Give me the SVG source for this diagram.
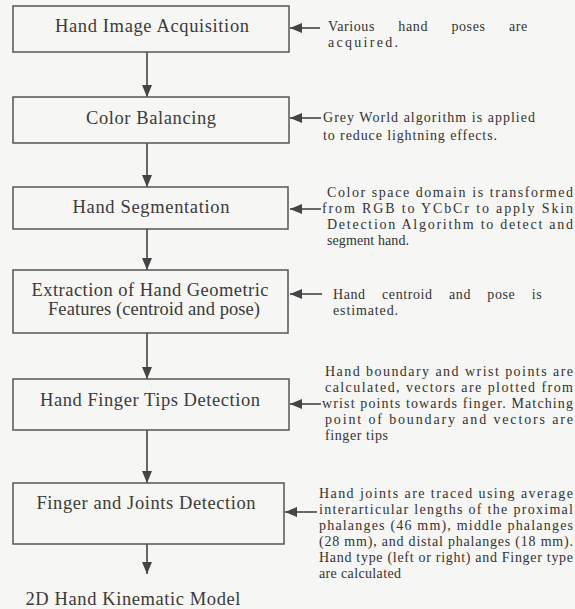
<svg xmlns="http://www.w3.org/2000/svg" width="575" height="609" viewBox="0 0 575 609">
<defs>
<marker id="ah" markerUnits="userSpaceOnUse" markerWidth="12" markerHeight="10" viewBox="0 0 12 10" refX="12" refY="5" orient="auto">
<path d="M0,0 L12,5 L0,10 Z" fill="#444"/>
</marker>
<style>
.box{fill:none;stroke:#555;stroke-width:1.5}
.t{font-family:"Liberation Serif","Times New Roman",serif;font-size:18.5px;fill:#3a3a3a;text-anchor:middle}
.a{font-family:"Liberation Serif","Times New Roman",serif;font-size:14px;fill:#333}
.c{stroke:#444;stroke-width:1.6;fill:none;marker-end:url(#ah)}
</style>
</defs>
<rect width="575" height="609" fill="#f6f6f4"/>
<g id="connectors">
<line class="c" x1="147" y1="52" x2="147" y2="97"/>
<line class="c" x1="147" y1="143" x2="147" y2="187"/>
<line class="c" x1="147" y1="229" x2="147" y2="270"/>
<line class="c" x1="147" y1="333" x2="147" y2="379"/>
<line class="c" x1="147" y1="430" x2="147" y2="483"/>
<line class="c" x1="147" y1="544" x2="147" y2="574"/>
<line class="c" x1="320" y1="28" x2="290" y2="28"/>
<line class="c" x1="321" y1="118" x2="290" y2="118"/>
<line class="c" x1="321" y1="209" x2="290" y2="209"/>
<line class="c" x1="322" y1="294" x2="290" y2="294"/>
<line class="c" x1="321" y1="404" x2="290" y2="404"/>
<line class="c" x1="317" y1="512" x2="285" y2="512"/>
</g>
<g id="n1">
<rect class="box" x="13" y="6" width="276" height="46"/>
<text class="t" x="152" y="32" textLength="194" lengthAdjust="spacing">Hand Image Acquisition</text>
</g>
<g id="n2">
<rect class="box" x="13" y="97" width="276" height="46"/>
<text class="t" x="151" y="124" textLength="130" lengthAdjust="spacing">Color Balancing</text>
</g>
<g id="n3">
<rect class="box" x="13" y="187" width="275" height="42"/>
<text class="t" x="151" y="213" textLength="157" lengthAdjust="spacing">Hand Segmentation</text>
</g>
<g id="n4">
<rect class="box" x="13" y="270" width="275" height="63"/>
<text class="t" x="150" y="296" textLength="237" lengthAdjust="spacing">Extraction of Hand Geometric</text>
<text class="t" x="154" y="315" textLength="212" lengthAdjust="spacing">Features (centroid and pose)</text>
</g>
<g id="n5">
<rect class="box" x="13" y="379" width="276" height="51"/>
<text class="t" x="150" y="406" textLength="220" lengthAdjust="spacing">Hand Finger Tips Detection</text>
</g>
<g id="n6">
<rect class="box" x="13" y="483" width="271" height="61"/>
<text class="t" x="146" y="509" textLength="219" lengthAdjust="spacing">Finger and Joints Detection</text>
</g>
<g id="n7">
<text class="t" x="133" y="605" textLength="215" lengthAdjust="spacing">2D Hand Kinematic Model</text>
</g>
<g id="notes">
<text class="a" x="328" y="31" word-spacing="19.3" letter-spacing="0.6">Various hand poses are</text>
<text class="a" x="328" y="47" textLength="70" lengthAdjust="spacing">acquired.</text>
<text class="a" x="323" y="122" textLength="212" lengthAdjust="spacing">Grey World algorithm is applied</text>
<text class="a" x="323" y="140" textLength="174" lengthAdjust="spacing">to reduce lightning effects.</text>
<text class="a" x="327" y="197" textLength="246" lengthAdjust="spacing">Color space domain is transformed</text>
<text class="a" x="322" y="213" textLength="251" lengthAdjust="spacing">from RGB to YCbCr to apply Skin</text>
<text class="a" x="327" y="229" textLength="246" lengthAdjust="spacing">Detection Algorithm to detect and</text>
<text class="a" x="327" y="245" textLength="82" lengthAdjust="spacing">segment hand.</text>
<text class="a" x="333" y="299" word-spacing="12.2" letter-spacing="0.6">Hand centroid and pose is</text>
<text class="a" x="333" y="315" textLength="65" lengthAdjust="spacing">estimated.</text>
<text class="a" x="325" y="376" textLength="248" lengthAdjust="spacing">Hand boundary and wrist points are</text>
<text class="a" x="325" y="392" textLength="248" lengthAdjust="spacing">calculated, vectors are plotted from</text>
<text class="a" x="322" y="408" textLength="251" lengthAdjust="spacing">wrist points towards finger. Matching</text>
<text class="a" x="325" y="424" textLength="248" lengthAdjust="spacing">point of boundary and vectors are</text>
<text class="a" x="325" y="440" textLength="63" lengthAdjust="spacing">finger tips</text>
<text class="a" x="319" y="498" textLength="254" lengthAdjust="spacing">Hand joints are traced using average</text>
<text class="a" x="319" y="514" textLength="254" lengthAdjust="spacing">interarticular lengths of the proximal</text>
<text class="a" x="319" y="530" textLength="254" lengthAdjust="spacing">phalanges (46 mm), middle phalanges</text>
<text class="a" x="319" y="546" textLength="254" lengthAdjust="spacing">(28 mm), and distal phalanges (18 mm).</text>
<text class="a" x="319" y="562" textLength="254" lengthAdjust="spacing">Hand type (left or right) and Finger type</text>
<text class="a" x="319" y="578" textLength="82" lengthAdjust="spacing">are calculated</text>
</g>
</svg>
